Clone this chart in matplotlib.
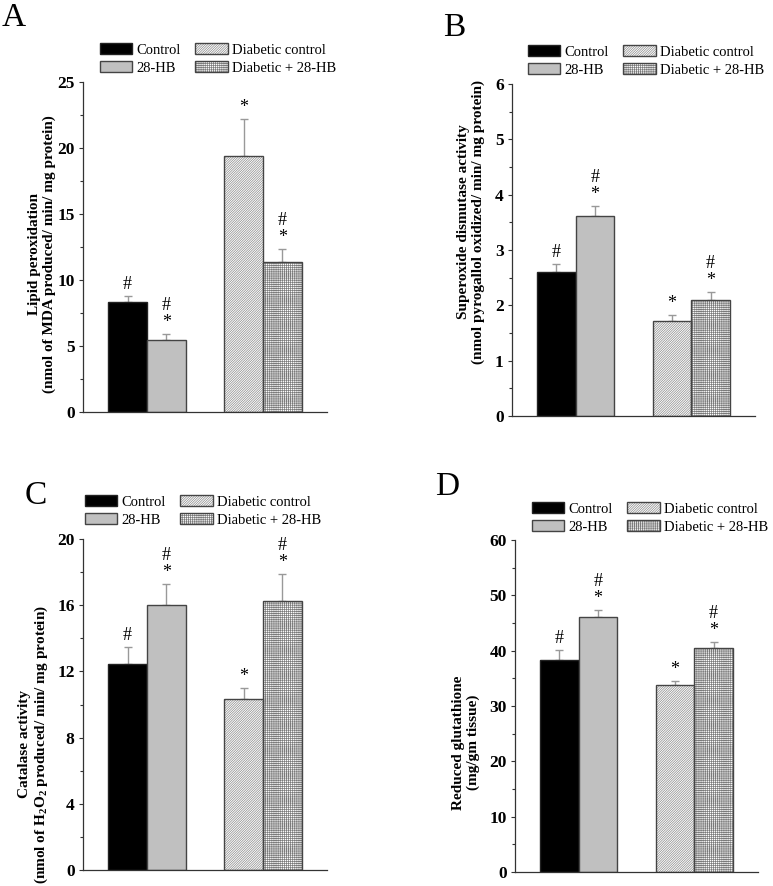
import matplotlib
matplotlib.use("Agg")
import matplotlib.pyplot as plt
from matplotlib.ticker import MultipleLocator

plt.rcParams['font.family'] = ['Liberation Serif', 'DejaVu Serif']
plt.rcParams['mathtext.fontset'] = 'custom'
plt.rcParams['mathtext.rm'] = 'Liberation Serif:bold'
plt.rcParams['mathtext.it'] = 'Liberation Serif:bold'
plt.rcParams['mathtext.bf'] = 'Liberation Serif:bold'
plt.rcParams['hatch.linewidth'] = 0.5

# groups in each panel
groups = ["Control", "28-HB", "Diabetic control", "Diabetic + 28-HB"]

# A - lipid peroxidation
lipid_mean = [8.37, 5.42, 19.38, 11.39]
lipid_err = [0.43, 0.48, 2.80, 0.93]
lipid_marks = ["#", "*#", "*", "*#"]

# B - superoxide dismutase
sod_mean = [2.60, 3.62, 1.72, 2.10]
sod_err = [0.14, 0.18, 0.11, 0.14]
sod_marks = ["#", "*#", "*", "*#"]

# C - catalase
cat_mean = [12.45, 16.00, 10.31, 16.23]
cat_err = [1.05, 1.27, 0.67, 1.67]
cat_marks = ["#", "*#", "*", "*#"]

# D - reduced glutathione
gsh_mean = [38.3, 46.1, 33.8, 40.5]
gsh_err = [1.9, 1.2, 0.8, 1.0]
gsh_marks = ["#", "*#", "*", "*#"]

W, H = 773, 886
xpos = [1.15, 2.15, 4.15, 5.15]
faces = ["black", "#c0c0c0", "white", "white"]
edges = ["#222222", "#444444", "#444444", "#444444"]
hatches = [None, None, "/" * 14, "+" * 8]
hatch_cols = [None, None, "#8a8a8a", "#7a7a7a"]

panels = [
    dict(letter="A", rect=(83, 412, 244, 330), mean=lipid_mean, err=lipid_err,
         marks=lipid_marks, ymax=25, major=5,
         ylabel="Lipid peroxidation\n(nmol of MDA produced/ min/ mg protein)",
         lab=(-0.111, 0.479), leg=(100, 43), lpos=(2, 3)),
    dict(letter="B", rect=(512, 416, 243, 332), mean=sod_mean, err=sod_err,
         marks=sod_marks, ymax=6, major=1,
         ylabel="Superoxide dismutase activity\n(nmol pyrogallol oxidized/ min/ mg protein)",
         lab=(-0.111, 0.584), leg=(528, 45), lpos=(443, 12)),
    dict(letter="C", rect=(83, 870, 244, 331), mean=cat_mean, err=cat_err,
         marks=cat_marks, ymax=20, major=4,
         ylabel="Catalase activity\n(nmol of H$_2$O$_2$ produced/ min/ mg protein)",
         lab=(-0.135, 0.38), leg=(85, 495), lpos=(25, 481)),
    dict(letter="D", rect=(515, 872, 243, 332), mean=gsh_mean, err=gsh_err,
         marks=gsh_marks, ymax=60, major=10,
         ylabel="Reduced glutathione\n(mg/gm tissue)",
         lab=(-0.144, 0.39), leg=(532, 502), lpos=(435, 472)),
]

fig = plt.figure(figsize=(W / 100, H / 100), dpi=100)

for p in panels:
    left, bottom, wpx, hpx = p["rect"]
    ax = fig.add_axes([left / W, 1 - bottom / H, wpx / W, hpx / H])
    handles = []
    for i in range(4):
        if hatches[i]:
            # light grey hatch under a dark outline
            fill = ax.bar(xpos[i], p["mean"][i], width=1.0, color="white",
                          edgecolor=hatch_cols[i], hatch=hatches[i], linewidth=0, zorder=2)
            line = ax.bar(xpos[i], p["mean"][i], width=1.0, fill=False,
                          edgecolor=edges[i], linewidth=1.0, zorder=3)
            handles.append((fill[0], line[0]))
        else:
            b = ax.bar(xpos[i], p["mean"][i], width=1.0, color=faces[i],
                       edgecolor=edges[i], linewidth=1.0, zorder=2)
            handles.append(b[0])
        ax.errorbar(xpos[i], p["mean"][i], yerr=[[0], [p["err"][i]]], fmt="none",
                    ecolor="#999999", elinewidth=1.0, capsize=3, capthick=1.0, zorder=1)
        top = p["mean"][i] + p["err"][i]
        for k, sym in enumerate(p["marks"][i]):
            ax.annotate(sym, xy=(xpos[i], top), xytext=(0, (7 + 17 * k) * 0.72),
                        textcoords="offset points", ha="center", va="baseline",
                        fontsize=13)

    ax.set_xlim(0, 6.3)
    ax.set_ylim(0, p["ymax"])
    ax.set_xticks([])
    ax.yaxis.set_major_locator(MultipleLocator(p["major"]))
    ax.yaxis.set_minor_locator(MultipleLocator(p["major"] / 2))
    ax.tick_params(axis="y", which="major", direction="out", length=3, width=0.8,
                   labelsize=12.5, pad=3, color="#333333")
    ax.tick_params(axis="y", which="minor", direction="out", length=2, width=0.8,
                   color="#333333")
    plt.setp(ax.get_yticklabels(), fontweight="bold")
    for s in ["top", "right"]:
        ax.spines[s].set_visible(False)
    for s in ["left", "bottom"]:
        ax.spines[s].set_color("#333333")
        ax.spines[s].set_linewidth(0.9)

    ax.set_ylabel(p["ylabel"], fontsize=11, fontweight="bold", linespacing=1.15)
    ax.yaxis.set_label_coords(*p["lab"])

    lx, ly = p["leg"]
    ax.legend(handles, groups, loc="upper left", bbox_to_anchor=(lx / W, 1 - ly / H),
              bbox_transform=fig.transFigure, ncol=2, frameon=False, fontsize=10.5,
              borderpad=0, borderaxespad=0, handlelength=2.2, handleheight=0.82,
              handletextpad=0.3, columnspacing=1.0, labelspacing=0.3)

    fx, fy = p["lpos"]
    fig.text(fx / W, 1 - fy / H, p["letter"], fontsize=24, ha="left", va="top")

fig.savefig("out.png", dpi=100)
